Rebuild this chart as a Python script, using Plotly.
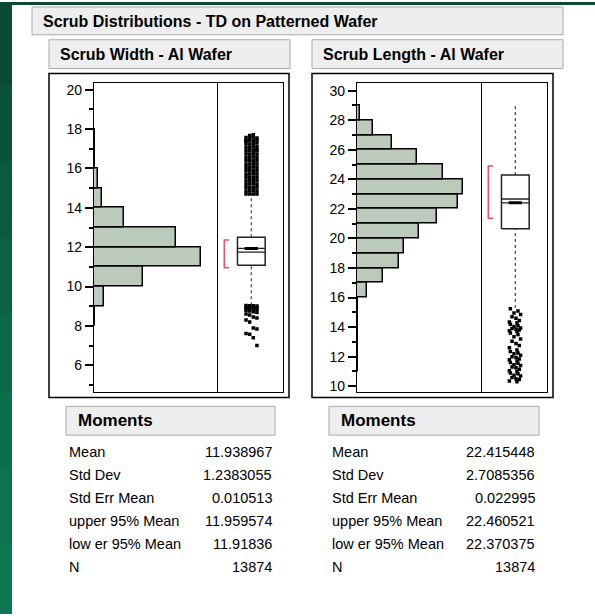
import plotly.graph_objects as go

W, H = 595, 616
FONT = "Liberation Sans, Arial, sans-serif"


def fx(px):
    return px / W


def fy(py):
    return 1 - py / H


# ---------------- data ----------------
title_main = "Scrub Distributions - TD on Patterned Wafer"
panel_titles = ["Scrub Width - Al Wafer", "Scrub Length - Al Wafer"]

width_bin_lo = [6, 7, 8, 9, 10, 11, 12, 13, 14, 15, 16, 17]
width_counts = [4, 10, 45, 470, 2300, 5030, 3860, 1410, 380, 190, 70, 40]

length_bin_lo = [10, 11, 12, 13, 14, 15, 16, 17, 18, 19, 20, 21, 22, 23, 24, 25, 26, 27, 28]
length_counts = [10, 18, 15, 15, 22, 25, 210, 535, 850, 965, 1265, 1640, 2070, 2170,
                 1760, 1230, 710, 320, 60]

# whisker low, q1, median, q3, whisker high
width_box = [9.05, 11.08, 11.75, 12.50, 14.70]
length_box = [15.30, 20.65, 22.67, 24.30, 29.06]
width_mean = 11.938967
length_mean = 22.415448
width_shortest_half = [10.96, 12.37]
length_shortest_half = [21.37, 24.91]

width_outliers = [
    14.70, 14.70, 14.71, 14.70, 14.86, 14.87, 14.88, 14.86, 15.03, 15.04, 15.05, 15.04,
    15.20, 15.21, 15.22, 15.20, 15.37, 15.38, 15.39, 15.38, 15.54, 15.55, 15.56, 15.55,
    15.71, 15.72, 15.73, 15.72, 15.88, 15.89, 15.90, 15.89, 16.05, 16.06, 16.07, 16.06,
    16.22, 16.23, 16.24, 16.23, 16.39, 16.40, 16.41, 16.40, 16.56, 16.57, 16.58, 16.57,
    16.73, 16.74, 16.75, 16.74, 16.90, 16.91, 16.92, 16.91, 17.07, 17.08, 17.09, 16.95,
    17.24, 17.25, 17.26, 17.10, 17.41, 17.42, 17.43, 17.30, 17.58, 17.59, 17.60, 17.45,
    17.40, 17.68, 17.72, 17.55,
    9.04, 9.03, 9.02, 9.01, 8.97, 8.96, 8.95, 8.93, 8.90, 8.88, 8.86, 8.82,
    8.80, 8.76, 8.72, 8.68, 8.60, 8.55, 8.45, 8.40, 8.30, 8.20, 7.90, 7.85,
    7.62, 7.58, 7.40, 7.00]
length_outliers = [
    15.25, 15.10, 14.95, 14.85, 14.70, 14.60, 14.45, 14.35, 14.30, 14.20, 14.10, 14.05,
    13.95, 13.90, 13.85, 13.80, 13.75, 13.70, 13.60, 13.50, 13.35, 13.20, 13.05, 12.90,
    12.75, 12.60, 12.45, 12.35, 12.25, 12.20, 12.10, 12.00, 11.95, 11.85, 11.80, 11.70,
    11.60, 11.55, 11.45, 11.40, 11.30, 11.25, 11.15, 11.05, 11.00, 10.90, 10.85, 10.75,
    10.70, 10.60, 10.50, 10.45, 10.35, 10.30]

moment_labels = ["Mean", "Std Dev", "Std Err Mean", "upper 95% Mean", "low er 95% Mean", "N"]
width_moments = ["11.938967", "1.2383055", "0.010513", "11.959574", "11.91836", "13874"]
length_moments = ["22.415448", "2.7085356", "0.022995", "22.460521", "22.370375", "13874"]

# ---------------- styling / geometry ----------------
BAR_FILL = "#bccabb"
RED = "#e8506e"
jit_w = [-0.16, -0.05, 0.06, 0.17]
jit_l = [-0.15, 0.08, -0.04, 0.16, -0.10, 0.02, 0.12, -0.18, 0.05]

panels = [
    dict(bins=width_bin_lo, counts=width_counts, box=width_box, mean=width_mean,
         short=width_shortest_half, out=width_outliers, jit=jit_w,
         frame=(49, 289), sub=(49, 290), xh=(94, 217), xb=(217, 283),
         yr=(4.62, 20.32), xmax=5780, tickv=list(range(6, 21, 2)),
         axes=("x", "y", "x2", "y2"), mom_box=(66, 275), lab_x=67, val_x=274,
         moments=width_moments),
    dict(bins=length_bin_lo, counts=length_counts, box=length_box, mean=length_mean,
         short=length_shortest_half, out=length_outliers, jit=jit_l,
         frame=(312, 553), sub=(312, 563), xh=(357, 481), xb=(481, 547),
         yr=(9.58, 30.49), xmax=2530, tickv=list(range(10, 31, 2)),
         axes=("x3", "y3", "x4", "y4"), mom_box=(329, 539), lab_x=330, val_x=537,
         moments=length_moments),
]

PLOT_TOP, PLOT_BOT = 82, 393

fig = go.Figure()
layout_axes = {}
shapes = []
annotations = []


def axname(a):
    return ("xaxis" if a[0] == "x" else "yaxis") + a[1:]


for p in panels:
    xa, ya, xa2, ya2 = p["axes"]
    # histogram
    fig.add_trace(go.Bar(
        orientation="h", y=[b + 0.5 for b in p["bins"]], x=p["counts"], width=1,
        marker=dict(color=BAR_FILL, line=dict(color="black", width=1.5)),
        xaxis=xa, yaxis=ya, showlegend=False, hoverinfo="skip"))

    wl, q1, med, q3, wh = p["box"]
    c, hw = 0.04, 0.42
    fig.add_trace(go.Scatter(
        x=[c, c, None, c, c], y=[wl, q1, None, q3, wh], mode="lines",
        line=dict(color="#555555", width=1.3, dash="dot"),
        xaxis=xa2, yaxis=ya2, showlegend=False, hoverinfo="skip"))
    fig.add_trace(go.Scatter(
        x=[c - hw, c + hw, c + hw, c - hw, c - hw], y=[q1, q1, q3, q3, q1],
        mode="lines", fill="toself", fillcolor="white",
        line=dict(color="#222222", width=1.5),
        xaxis=xa2, yaxis=ya2, showlegend=False, hoverinfo="skip"))
    fig.add_trace(go.Scatter(
        x=[c - hw, c + hw, None, c - hw, c + hw], y=[med, med, None, p["mean"], p["mean"]],
        mode="lines", line=dict(color="#222222", width=1.3),
        xaxis=xa2, yaxis=ya2, showlegend=False, hoverinfo="skip"))
    fig.add_trace(go.Scatter(
        x=[c - 0.2, c + 0.2], y=[p["mean"], p["mean"]],
        mode="lines", line=dict(color="black", width=3),
        xaxis=xa2, yaxis=ya2, showlegend=False, hoverinfo="skip"))
    lo, hi = p["short"]
    fig.add_trace(go.Scatter(
        x=[-0.63, -0.78, -0.78, -0.63], y=[hi, hi, lo, lo], mode="lines",
        line=dict(color=RED, width=1.5),
        xaxis=xa2, yaxis=ya2, showlegend=False, hoverinfo="skip"))
    jit = p["jit"]
    fig.add_trace(go.Scatter(
        x=[c + jit[i % len(jit)] for i in range(len(p["out"]))], y=p["out"],
        mode="markers", marker=dict(symbol="square", size=3.5, color="black"),
        xaxis=xa2, yaxis=ya2, showlegend=False, hoverinfo="skip"))

    ydom = [fy(PLOT_BOT), fy(PLOT_TOP)]
    layout_axes[axname(xa)] = dict(
        domain=[fx(p["xh"][0]), fx(p["xh"][1])], range=[0, p["xmax"]], anchor=ya,
        showticklabels=False, ticks="", showgrid=False, zeroline=False,
        showline=True, mirror=True, linecolor="black", linewidth=1.2, fixedrange=True)
    layout_axes[axname(ya)] = dict(
        domain=ydom, range=list(p["yr"]), anchor=xa, tickvals=p["tickv"],
        ticks="outside", ticklen=8, tickwidth=1.5, tickcolor="black",
        minor=dict(dtick=1, ticks="outside", ticklen=4, tickwidth=1.5, tickcolor="black"),
        tickfont=dict(family=FONT, size=14, color="black"),
        showgrid=False, zeroline=False, showline=True, mirror=True,
        linecolor="black", linewidth=1.2, fixedrange=True)
    layout_axes[axname(xa2)] = dict(
        domain=[fx(p["xb"][0]), fx(p["xb"][1])], range=[-1, 1], anchor=ya2,
        showticklabels=False, ticks="", showgrid=False, zeroline=False,
        showline=True, mirror=True, linecolor="black", linewidth=1.2, fixedrange=True)
    layout_axes[axname(ya2)] = dict(
        domain=ydom, range=list(p["yr"]), anchor=xa2, side="right",
        showticklabels=False, ticks="", showgrid=False, zeroline=False,
        showline=True, mirror=False, linecolor="black", linewidth=1.2, fixedrange=True)

    shapes.append(dict(type="rect", xref="paper", yref="paper",
                       x0=fx(p["frame"][0]), x1=fx(p["frame"][1]), y0=fy(398), y1=fy(72),
                       line=dict(color="black", width=1.5)))
    shapes.append(dict(type="rect", xref="paper", yref="paper",
                       x0=fx(p["sub"][0]), x1=fx(p["sub"][1]), y0=fy(67), y1=fy(38),
                       fillcolor="#eeeeee", line=dict(color="#aaaaaa", width=1)))
    shapes.append(dict(type="rect", xref="paper", yref="paper",
                       x0=fx(p["mom_box"][0]), x1=fx(p["mom_box"][1]), y0=fy(436), y1=fy(407),
                       fillcolor="#eeeeee", line=dict(color="#aaaaaa", width=1)))
    annotations.append(dict(text="<b>Moments</b>", xref="paper", yref="paper",
                            x=fx(p["mom_box"][0] + 10), y=fy(421.5), xanchor="left",
                            yanchor="middle", showarrow=False,
                            font=dict(family=FONT, size=17, color="black")))
    for i, (lab, val) in enumerate(zip(moment_labels, p["moments"])):
        yy = 453.3 + i * 23
        annotations.append(dict(text=lab, xref="paper", yref="paper", x=fx(p["lab_x"]),
                                y=fy(yy), xanchor="left", yanchor="middle", showarrow=False,
                                font=dict(family=FONT, size=14.5, color="black")))
        annotations.append(dict(text=val, xref="paper", yref="paper", x=fx(p["val_x"]),
                                y=fy(yy), xanchor="right", yanchor="middle", showarrow=False,
                                font=dict(family=FONT, size=14.5, color="black")))

for i, t in enumerate(panel_titles):
    annotations.append(dict(text="<b>" + t + "</b>", xref="paper", yref="paper",
                            x=fx(panels[i]["sub"][0] + 9), y=fy(52.5), xanchor="left",
                            yanchor="middle", showarrow=False,
                            font=dict(family=FONT, size=16, color="black")))

shapes.insert(0, dict(type="rect", xref="paper", yref="paper", x0=fx(32), x1=fx(563),
                      y0=fy(33), y1=fy(5), fillcolor="#eeeeee",
                      line=dict(color="#aaaaaa", width=1)))
annotations.append(dict(text="<b>" + title_main + "</b>", xref="paper", yref="paper",
                        x=fx(41), y=fy(19.5), xanchor="left", yanchor="middle",
                        showarrow=False, font=dict(family=FONT, size=16, color="black")))

# green background strips (decoration)
greens = ["#0b4a34", "#0b5239", "#0b5a3e", "#0b6243", "#0b6947", "#0b6f4b", "#0b744e", "#0b7851"]
n = len(greens)
for i, g in enumerate(greens):
    shapes.insert(0, dict(type="rect", xref="paper", yref="paper", x0=0, x1=fx(12),
                          y0=max(0, 1 - (i + 1) / n - 0.01), y1=1 - i / n, fillcolor=g,
                          line=dict(width=0), layer="below"))
shapes.insert(0, dict(type="rect", xref="paper", yref="paper", x0=0, x1=1, y0=fy(3), y1=1,
                      fillcolor="#0b4a34", line=dict(width=0), layer="below"))

fig.update_layout(
    width=W, height=H, margin=dict(l=0, r=0, t=0, b=0),
    paper_bgcolor="white", plot_bgcolor="white", showlegend=False,
    bargap=0, shapes=shapes, annotations=annotations,
    font=dict(family=FONT, color="black"), **layout_axes)

fig.write_html("out.html", config={"displayModeBar": False},
               post_script="document.body.style.margin='0';")
